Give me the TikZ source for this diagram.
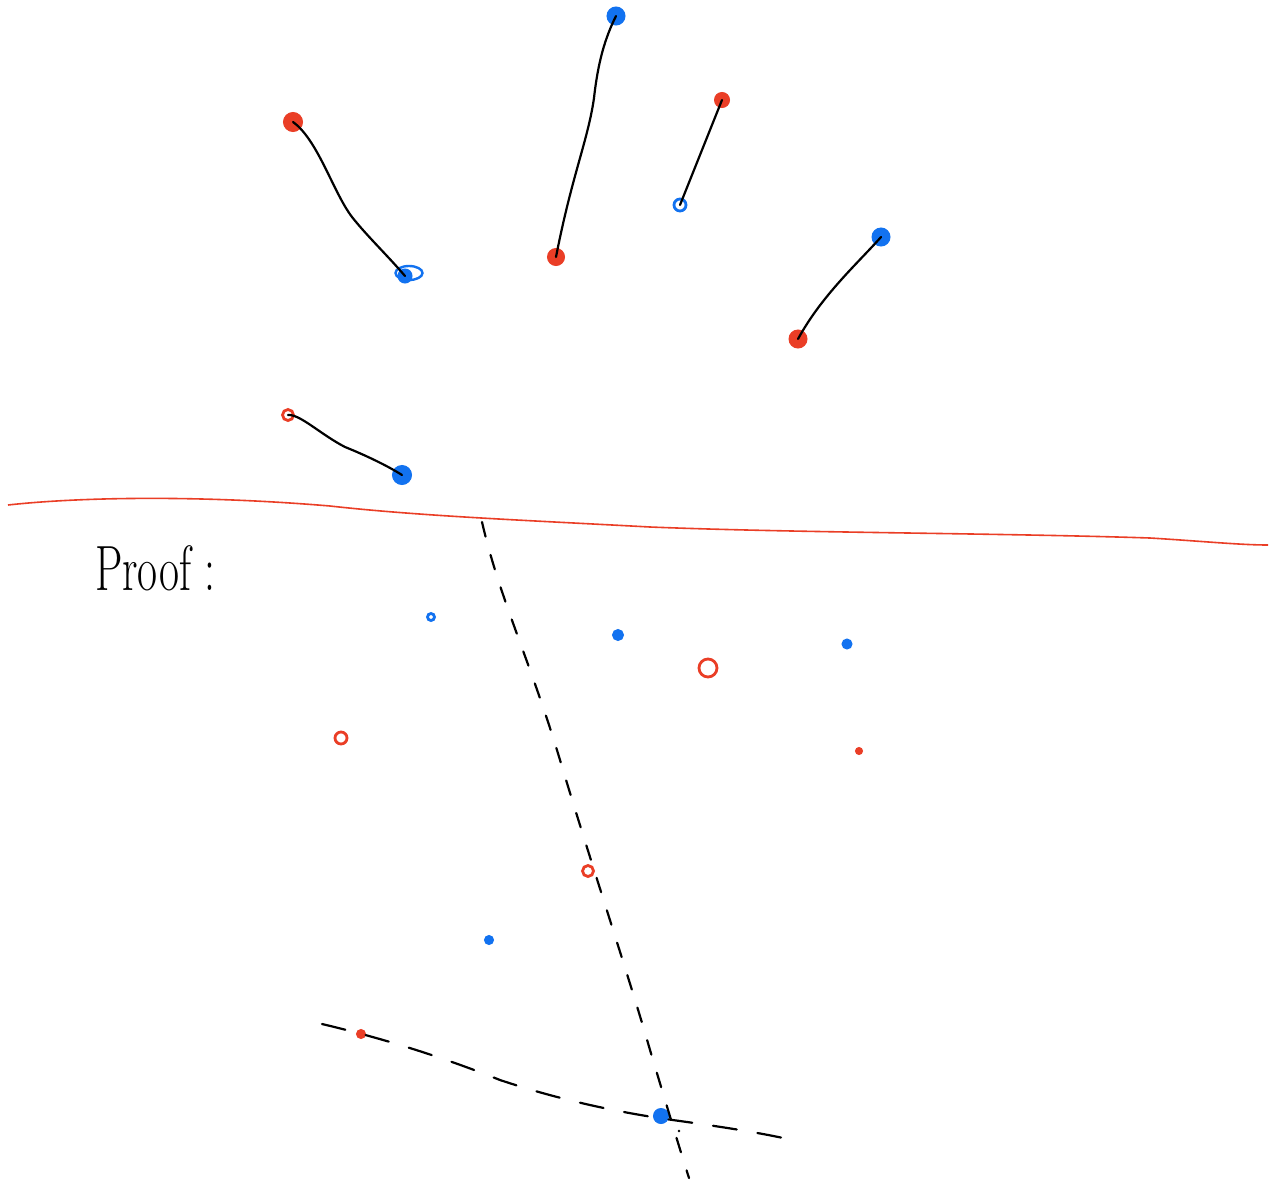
\documentclass[tikz,border=0pt]{standalone}
\usepackage{graphicx}
\usetikzlibrary{shapes.geometric}
\definecolor{redpen}{RGB}{234,62,38}
\definecolor{bluepen}{RGB}{18,114,240}
\begin{document}
\begin{tikzpicture}[x=1pt,y=-1pt,
  ink/.style={line width=2.2pt,black,line cap=round,line join=round},
  rdot/.style={circle,fill=redpen,draw=redpen,line width=1pt,inner sep=0pt},
  bdot/.style={circle,fill=bluepen,draw=bluepen,line width=1pt,inner sep=0pt},
  rring/.style={circle,draw=redpen,line width=2.8pt,inner sep=0pt},
  bring/.style={circle,draw=bluepen,line width=2.8pt,inner sep=0pt},
  vdash/.style={ink,dash pattern=on 15pt off 19pt},
  hdash/.style={ink,dash pattern=on 24pt off 21pt}]
\useasboundingbox (0,0) rectangle (1279,1181);
\fill[white] (0,0) rectangle (1279,1181);

% top pairs
\node[rdot,minimum size=19pt] (r1) at (293,122) {};
\node[ellipse,draw=bluepen,line width=2.4pt,minimum width=27pt,minimum height=14pt,inner sep=0pt] (b1) at (409,273) {};
\node[bdot,minimum size=14pt] (b1f) at (405,276) {};
\node[bdot,minimum size=18pt] (b2) at (616,16) {};
\node[rdot,minimum size=17pt] (r2) at (556,257) {};
\node[rdot,minimum size=15pt] (r3) at (722,100) {};
\node[bring,minimum size=12pt] (b3) at (680,205) {};
\node[bdot,minimum size=18pt] (b4) at (881,237) {};
\node[rdot,minimum size=18pt] (r4) at (798,339) {};
\node[rring,minimum size=11pt] (r5) at (288,415) {};
\node[bdot,minimum size=19pt] (b5) at (402,475) {};

\draw[ink] (r1.center) .. controls (318,140) and (333,192) .. (352,217)
   .. controls (367,236) and (388,256) .. (b1f.center);
\draw[ink] (b2.center) .. controls (605,38) and (598,62) .. (594,98)
   .. controls (588,140) and (572,175) .. (r2.center);
\draw[ink] (r3.center) .. controls (710,130) and (692,175) .. (b3.center);
\draw[ink] (b4.center) .. controls (858,263) and (822,295) .. (r4.center);
\draw[ink] (r5.center) .. controls (300,414) and (320,434) .. (345,447)
   .. controls (365,455) and (388,466) .. (b5.center);

% separating line
\draw[redpen,line width=1.6pt] (8,505) .. controls (80,497) and (200,495) .. (330,506)
   .. controls (420,516) and (520,520) .. (650,527)
   .. controls (800,533) and (1000,533) .. (1150,538)
   .. controls (1200,541) and (1240,545) .. (1268,545);

% Proof label
\node[anchor=base west,inner sep=0pt] (proof) at (95,590)
  {\scalebox{0.68}[1]{\fontsize{64}{70}\selectfont Proof :}};

% lower points
\node[bring,minimum size=7pt] (p1) at (431,617) {};
\node[bdot,minimum size=11pt] (p2) at (618,635) {};
\node[bdot,minimum size=10pt] (p3) at (847,644) {};
\node[rring,minimum size=18pt] (p4) at (708,668) {};
\node[rring,minimum size=12pt] (p5) at (341,738) {};
\node[rdot,minimum size=7pt] (p6) at (859,751) {};
\node[rring,minimum size=11pt] (p7) at (588,871) {};
\node[bdot,minimum size=9pt] (p8) at (489,940) {};
\node[rdot,minimum size=9pt] (p9) at (361,1034) {};
\node[bdot,minimum size=15pt] (p10) at (661,1116) {};

% dashed lines
\coordinate (va) at (482,522);
\coordinate (vb) at (689,1178);
\coordinate (ha) at (322,1024);
\coordinate (hb) at (788,1139);
\draw[vdash] (va) .. controls (500,600) and (530,660) .. (560,760)
   .. controls (590,860) and (630,980) .. (650,1050)
   .. controls (665,1100) and (680,1150) .. (vb);
\draw[hdash] (ha) .. controls (390,1040) and (450,1060) .. (500,1080)
   .. controls (560,1100) and (620,1113) .. (680,1121)
   .. controls (730,1128) and (760,1133) .. (hb);
\fill (679,1131) circle (1.3pt);
\end{tikzpicture}
\end{document}
